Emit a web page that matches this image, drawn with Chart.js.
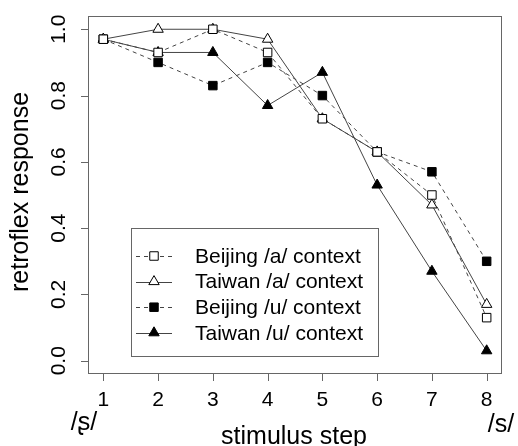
<!DOCTYPE html>
<html>
<head>
<meta charset="utf-8">
<script src="https://cdn.jsdelivr.net/npm/chart.js@4/dist/chart.umd.min.js"></script>
<style>
  html, body { margin: 0; padding: 0; background: #fff; }
  #wrap { width: 518px; height: 446px; position: relative; }
</style>
</head>
<body>
<div id="wrap"><canvas id="chart" width="518" height="446"></canvas></div>
<script>
// stimulus steps 1..8
const steps = [1, 2, 3, 4, 5, 6, 7, 8];
const xTicks = [1, 2, 3, 4, 5, 6, 7, 8];
const yTicks = [0, 0.2, 0.4, 0.6, 0.8, 1.0];

const beijingA = [0.97, 0.93, 1.00, 0.93, 0.73, 0.63, 0.50, 0.13];
const taiwanA  = [0.97, 1.00, 1.00, 0.97, 0.73, 0.63, 0.47, 0.17];
const beijingU = [0.97, 0.90, 0.83, 0.90, 0.80, 0.63, 0.57, 0.30];
const taiwanU  = [0.97, 0.93, 0.93, 0.77, 0.87, 0.53, 0.27, 0.03];

const labels = ['Beijing /a/ context', 'Taiwan /a/ context', 'Beijing /u/ context', 'Taiwan /u/ context'];

const FONT = '"Liberation Sans", Arial, sans-serif';
const GRAY = '#666';

function series(label, values, style, filled, dashed) {
    return {
        label: label,
        data: steps.map((s, i) => ({ x: s, y: values[i] })),
        borderColor: '#444',
        borderWidth: 1,
        borderDash: dashed ? [4, 4] : [],
        pointStyle: style,
        pointRadius: 6,
        pointHoverRadius: 6,
        pointBorderWidth: 1,
        pointBorderColor: '#000',
        pointBackgroundColor: filled ? '#000' : '#fff',
        tension: 0
    };
}

// frame, ticks, tick labels, axis titles and legend
const rAxes = {
    id: 'rAxes',
    afterDraw(chart) {
        const ctx = chart.ctx;
        const a = chart.chartArea;
        const xs = chart.scales.x, ys = chart.scales.y;
        ctx.save();
        ctx.strokeStyle = GRAY;
        ctx.lineWidth = 1;
        ctx.strokeRect(Math.round(a.left) + 0.5, Math.round(a.top) + 0.5,
            Math.round(a.right - a.left) - 1, Math.round(a.bottom - a.top) - 1);

        ctx.fillStyle = '#000';
        ctx.beginPath();
        xTicks.forEach(v => {
            const px = Math.round(xs.getPixelForValue(v)) + 0.5;
            ctx.moveTo(px, a.bottom);
            ctx.lineTo(px, a.bottom + 7);
        });
        yTicks.forEach(v => {
            const py = Math.round(ys.getPixelForValue(v)) + 0.5;
            ctx.moveTo(a.left, py);
            ctx.lineTo(a.left - 7, py);
        });
        ctx.stroke();

        ctx.font = '21px ' + FONT;
        ctx.textAlign = 'center';
        ctx.textBaseline = 'middle';
        xTicks.forEach(v => {
            ctx.fillText(String(v), xs.getPixelForValue(v), 400);
        });
        yTicks.forEach(v => {
            ctx.save();
            ctx.translate(59, ys.getPixelForValue(v));
            ctx.rotate(-Math.PI / 2);
            ctx.fillText(v.toFixed(1), 0, 0);
            ctx.restore();
        });

        ctx.font = '25px ' + FONT;
        ctx.fillText('stimulus step', 294, 437);
        ctx.fillText('/\u0282/', 84, 423);
        ctx.fillText('/s/', 501, 425);
        ctx.save();
        ctx.translate(21, 192);
        ctx.rotate(-Math.PI / 2);
        ctx.fillText('retroflex response', 0, 0);
        ctx.restore();

        // legend box
        const bx = 131, by = 228, bw = 247, bh = 128;
        ctx.strokeStyle = GRAY;
        ctx.strokeRect(bx + 0.5, by + 0.5, bw, bh);
        ctx.font = '21px ' + FONT;
        ctx.textAlign = 'left';
        chart.data.datasets.forEach((ds, i) => {
            const y = 256 + i * 25.6;
            ctx.strokeStyle = '#444';
            ctx.setLineDash(ds.borderDash);
            ctx.beginPath();
            ctx.moveTo(136, Math.round(y) + 0.5);
            ctx.lineTo(172, Math.round(y) + 0.5);
            ctx.stroke();
            ctx.setLineDash([]);
            ctx.strokeStyle = '#000';
            ctx.fillStyle = ds.pointBackgroundColor;
            Chart.helpers.drawPoint(ctx, { pointStyle: ds.pointStyle, radius: 6, borderWidth: 1 }, 154, y);
            ctx.fillStyle = '#000';
            ctx.fillText(ds.label, 195, y + 1);
        });
        ctx.restore();
    }
};

new Chart(document.getElementById('chart').getContext('2d'), {
    type: 'line',
    data: {
        datasets: [
            series(labels[0], beijingA, 'rect', false, true),
            series(labels[1], taiwanA, 'triangle', false, false),
            series(labels[2], beijingU, 'rect', true, true),
            series(labels[3], taiwanU, 'triangle', true, false)
        ]
    },
    options: {
        responsive: false,
        animation: false,
        layout: { padding: { left: 88, top: 16, right: 16, bottom: 72 } },
        plugins: { legend: { display: false }, tooltip: { enabled: false } },
        scales: {
            x: { type: 'linear', display: false, min: 0.72, max: 8.28 },
            y: { type: 'linear', display: false, min: -0.04, max: 1.04 }
        }
    },
    plugins: [rAxes]
});
</script>
</body>
</html>
